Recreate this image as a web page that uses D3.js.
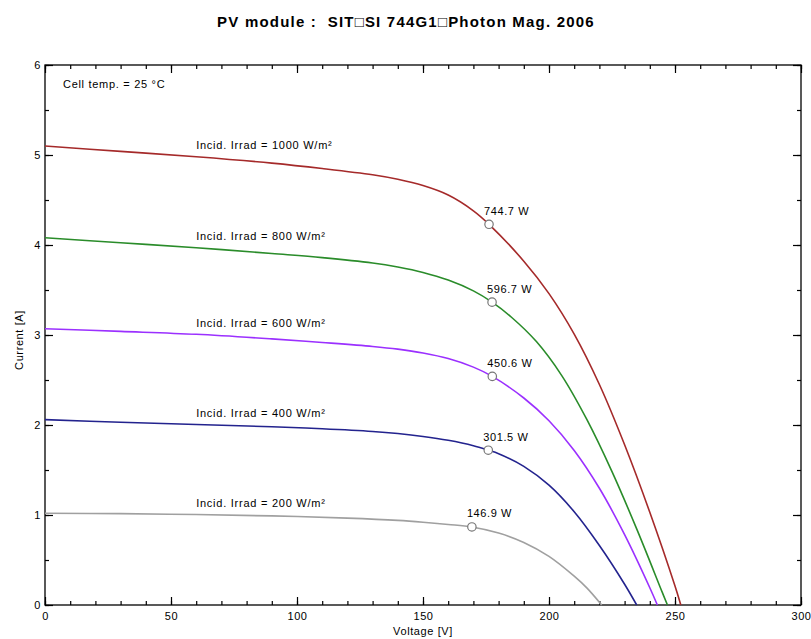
<!DOCTYPE html>
<html>
<head>
<meta charset="utf-8">
<script src="https://cdn.jsdelivr.net/npm/d3@7"></script>
<style>
  html, body { margin: 0; padding: 0; background: #fff; }
  svg { display: block; font-family: "Liberation Sans", Arial, sans-serif; }
</style>
</head>
<body>
<svg id="chart" width="811" height="639"></svg>
<script>
// ---------------- data ----------------
const titleText = "PV module :  SIT\u25A1SI 744G1\u25A1Photon Mag. 2006";
const xLabel = "Voltage [V]";
const yLabel = "Current [A]";
const noteText = "Cell temp. = 25 \u00B0C";

const irradiances = [1000, 800, 600, 400, 200];

const volt1000 = [0, 30, 60, 90, 110, 130, 140, 150, 160, 170, 176.2, 190, 200, 210, 220, 230, 240, 250, 252.3];
const curr1000 = [5.10, 5.04, 4.98, 4.91, 4.85, 4.78, 4.73, 4.66, 4.555, 4.38, 4.23, 3.82, 3.46, 3.01, 2.45, 1.78, 1.03, 0.21, 0];

const volt800 = [0, 30, 60, 90, 110, 130, 140, 150, 160, 170, 177.4, 185, 195, 205, 215, 225, 235, 245, 247];
const curr800 = [4.08, 4.025, 3.97, 3.905, 3.86, 3.80, 3.755, 3.695, 3.61, 3.49, 3.365, 3.20, 2.927, 2.552, 2.062, 1.482, 0.832, 0.137, 0];

const volt600 = [0, 30, 60, 90, 110, 130, 140, 150, 160, 170, 177.5, 190, 200, 210, 220, 230, 240, 243];
const curr600 = [3.07, 3.04, 3.008, 2.957, 2.917, 2.873, 2.843, 2.80, 2.738, 2.643, 2.54, 2.30, 2.047, 1.717, 1.297, 0.782, 0.192, 0];

const volt400 = [0, 30, 60, 90, 110, 130, 140, 150, 160, 170, 175.9, 180, 190, 200, 210, 220, 230, 234.8];
const curr400 = [2.06, 2.03, 2.005, 1.98, 1.958, 1.928, 1.905, 1.873, 1.83, 1.77, 1.72, 1.681, 1.541, 1.331, 1.036, 0.661, 0.231, 0];

const volt200 = [0, 30, 60, 90, 120, 140, 150, 160, 169.4, 180, 190, 200, 210, 215, 220.9];
const curr200 = [1.02, 1.015, 1.005, 0.99, 0.965, 0.94, 0.92, 0.895, 0.867, 0.80, 0.695, 0.54, 0.32, 0.19, 0];

const mppVolt = [176.2, 177.4, 177.5, 175.9, 169.4];
const mppCurr = [4.23, 3.365, 2.54, 1.72, 0.867];
const mppLabels = ["744.7 W", "596.7 W", "450.6 W", "301.5 W", "146.9 W"];

const xMajorTicks = [0, 50, 100, 150, 200, 250, 300];
const yMajorTicks = [0, 1, 2, 3, 4, 5, 6];

// ---------------- drawing ----------------
const seriesVolt = [volt1000, volt800, volt600, volt400, volt200];
const seriesCurr = [curr1000, curr800, curr600, curr400, curr200];
const colors = ["#a52a2a", "#2a8c2a", "#9b30ff", "#23238e", "#a0a0a0"];

const svg = d3.select("#chart");
const x = d3.scaleLinear().domain([0, 300]).range([45, 801]);
const y = d3.scaleLinear().domain([0, 6]).range([605, 65]);

const font = "'Liberation Sans', Arial, sans-serif";

// title
svg.append("text")
  .attr("x", 406).attr("y", 27)
  .attr("text-anchor", "middle")
  .attr("font-family", font)
  .attr("font-weight", "bold")
  .attr("font-size", 15)
  .style("letter-spacing", "1.2px")
  .style("white-space", "pre")
  .attr("xml:space", "preserve")
  .text(titleText);

// axes (inward ticks)
function styleAxis(g) {
  g.select(".domain").remove();
  g.selectAll(".tick line").attr("stroke", "#000").attr("stroke-width", 1.2);
  g.selectAll(".tick text")
    .attr("font-family", font)
    .attr("font-size", 11)
    .style("letter-spacing", "0.6px")
    .attr("fill", "#000");
}

const xMinor = d3.range(0, 301, 10);
const yMinor = d3.range(0, 6.01, 0.5);

// bottom
svg.append("g").attr("transform", `translate(0,${y(0)})`)
  .call(d3.axisBottom(x).tickValues(xMinor).tickSize(-4).tickFormat(""))
  .call(styleAxis);
svg.append("g").attr("transform", `translate(0,${y(0)})`)
  .call(d3.axisBottom(x).tickValues(xMajorTicks).tickSize(-8).tickPadding(7).tickFormat(d3.format("d")))
  .call(styleAxis);
// top
svg.append("g").attr("transform", `translate(0,${y(6)})`)
  .call(d3.axisTop(x).tickValues(xMinor).tickSize(-4).tickFormat(""))
  .call(styleAxis);
svg.append("g").attr("transform", `translate(0,${y(6)})`)
  .call(d3.axisTop(x).tickValues(xMajorTicks).tickSize(-8).tickFormat(""))
  .call(styleAxis);
// left
svg.append("g").attr("transform", `translate(${x(0)},0)`)
  .call(d3.axisLeft(y).tickValues(yMinor).tickSize(-4).tickFormat(""))
  .call(styleAxis);
svg.append("g").attr("transform", `translate(${x(0)},0)`)
  .call(d3.axisLeft(y).tickValues(yMajorTicks).tickSize(-8).tickPadding(4).tickFormat(d3.format("d")))
  .call(styleAxis);
// right
svg.append("g").attr("transform", `translate(${x(300)},0)`)
  .call(d3.axisRight(y).tickValues(yMinor).tickSize(-4).tickFormat(""))
  .call(styleAxis);
svg.append("g").attr("transform", `translate(${x(300)},0)`)
  .call(d3.axisRight(y).tickValues(yMajorTicks).tickSize(-8).tickFormat(""))
  .call(styleAxis);

// frame
svg.append("rect")
  .attr("x", x(0)).attr("y", y(6))
  .attr("width", x(300) - x(0)).attr("height", y(0) - y(6))
  .attr("fill", "none").attr("stroke", "#000").attr("stroke-width", 1.3);

// axis titles
svg.append("text")
  .attr("x", 423).attr("y", 635)
  .attr("text-anchor", "middle")
  .attr("font-family", font).attr("font-size", 11)
  .style("letter-spacing", "0.6px")
  .text(xLabel);
svg.append("text")
  .attr("transform", `translate(22.5,${340}) rotate(-90)`)
  .attr("text-anchor", "middle")
  .attr("font-family", font).attr("font-size", 11)
  .style("letter-spacing", "0.6px")
  .text(yLabel);

// note
svg.append("text")
  .attr("x", 63).attr("y", 88)
  .attr("font-family", font).attr("font-size", 11)
  .style("letter-spacing", "0.7px")
  .text(noteText);

// curves
const line = d3.line()
  .x(d => x(d[0]))
  .y(d => y(d[1]))
  .curve(d3.curveCatmullRom.alpha(0.5));

function currentAt(vs, is, v) {
  for (let k = 0; k < vs.length - 1; k++) {
    if (v >= vs[k] && v <= vs[k + 1]) {
      const t = (v - vs[k]) / (vs[k + 1] - vs[k]);
      return is[k] + t * (is[k + 1] - is[k]);
    }
  }
  return is[is.length - 1];
}

irradiances.forEach((irr, s) => {
  const pts = seriesVolt[s].map((v, k) => [v, seriesCurr[s][k]]);
  svg.append("path")
    .datum(pts)
    .attr("d", line)
    .attr("fill", "none")
    .attr("stroke", colors[s])
    .attr("stroke-width", 1.6);

  // curve label
  const lv = 60;
  svg.append("text")
    .attr("x", x(lv))
    .attr("y", y(currentAt(seriesVolt[s], seriesCurr[s], lv)) - 7.5)
    .attr("font-family", font).attr("font-size", 11)
    .style("letter-spacing", "0.75px")
    .text(`Incid. Irrad = ${irr} W/m\u00B2`);
});

// MPP markers
irradiances.forEach((irr, s) => {
  svg.append("circle")
    .attr("cx", x(mppVolt[s])).attr("cy", y(mppCurr[s]))
    .attr("r", 4.2)
    .attr("fill", "#fff")
    .attr("stroke", "#777")
    .attr("stroke-width", 1.2);
  svg.append("text")
    .attr("x", x(mppVolt[s]) - 5)
    .attr("y", y(mppCurr[s]) - 9.5)
    .attr("font-family", font).attr("font-size", 11)
    .style("letter-spacing", "0.6px")
    .text(mppLabels[s]);
});
</script>
</body>
</html>
